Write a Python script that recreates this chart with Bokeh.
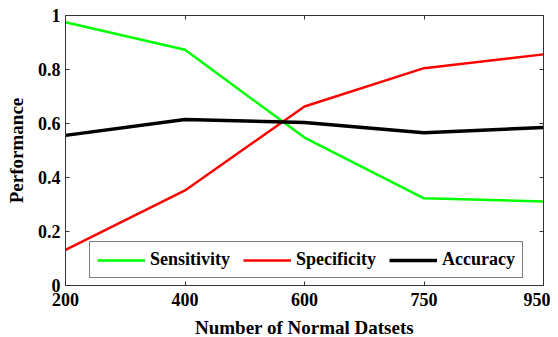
from bokeh.plotting import figure
from bokeh.models import FixedTicker, LinearAxis, Range1d, Legend, LegendItem
from bokeh.embed import file_html
from bokeh.resources import INLINE

x_labels = ["200", "400", "600", "750", "950"]
sensitivity = [0.975, 0.873, 0.548, 0.323, 0.311]
specificity = [0.132, 0.352, 0.663, 0.805, 0.856]
accuracy = [0.556, 0.615, 0.604, 0.566, 0.585]
y_ticks = [0, 0.2, 0.4, 0.6, 0.8, 1]
y_tick_labels = ["0", "0.2", "0.4", "0.6", "0.8", "1"]

xs = list(range(len(x_labels)))

FONT = "Liberation Serif"
FS = "18px"
AFS = "19px"

p = figure(frame_width=478, frame_height=270, output_backend="svg", toolbar_location=None,
           x_range=Range1d(0, len(x_labels) - 1), y_range=Range1d(0, 1),
           min_border_left=65, min_border_right=7, min_border_top=15, min_border_bottom=50)
p.xgrid.visible = False
p.ygrid.visible = False
p.outline_line_color = "#333333"
p.background_fill_color = "white"
p.border_fill_color = "white"

r1 = p.line(xs, sensitivity, line_color="#00ff00", line_width=2.5)
r2 = p.line(xs, specificity, line_color="#ff0000", line_width=2.5)
r3 = p.line(xs, accuracy, line_color="#000000", line_width=3.5)

def style(ax):
    ax.axis_line_color = "#333333"
    ax.major_tick_in = 4
    ax.major_tick_out = 0
    ax.minor_tick_in = 0
    ax.minor_tick_out = 0
    ax.major_tick_line_color = "#333333"
    ax.major_label_text_font = FONT
    ax.major_label_text_font_style = "bold"
    ax.major_label_text_font_size = FS
    ax.major_label_text_color = "black"
    ax.axis_label_text_font = FONT
    ax.axis_label_text_font_style = "bold"
    ax.axis_label_text_font_size = AFS
    ax.axis_label_text_color = "black"

xa = p.xaxis[0]
xa.ticker = FixedTicker(ticks=xs)
xa.major_label_overrides = {i: l for i, l in zip(xs, x_labels)}
xa.axis_label = "Number of Normal Datsets"
xa.major_label_standoff = 7
xa.axis_label_standoff = 8
style(xa)

ya = p.yaxis[0]
ya.ticker = FixedTicker(ticks=y_ticks)
ya.major_label_overrides = {t: l for t, l in zip(y_ticks, y_tick_labels)}
ya.axis_label = "Performance"
ya.major_label_standoff = 5
ya.axis_label_standoff = 8
style(ya)

ta = LinearAxis(ticker=FixedTicker(ticks=xs))
style(ta)
ta.major_label_overrides = {i: "" for i in xs}
ta.major_label_standoff = 0
p.add_layout(ta, "above")
ra = LinearAxis(ticker=FixedTicker(ticks=y_ticks))
style(ra)
ra.major_label_overrides = {t: "" for t in y_ticks}
ra.major_label_standoff = 0
p.add_layout(ra, "right")

legend = Legend(items=[LegendItem(label="Sensitivity", renderers=[r1]),
                       LegendItem(label="Specificity", renderers=[r2]),
                       LegendItem(label="Accuracy", renderers=[r3])],
                orientation="horizontal", location=(24, 7),
                label_text_font=FONT, label_text_font_style="bold",
                label_text_font_size=FS, label_text_color="black",
                glyph_width=48, glyph_height=18, label_standoff=5, spacing=13,
                padding=7, margin=0, label_height=17,
                border_line_color="black", border_line_width=1,
                background_fill_alpha=1)
p.add_layout(legend, "center")

open("out.html", "w").write(file_html(p, INLINE))
